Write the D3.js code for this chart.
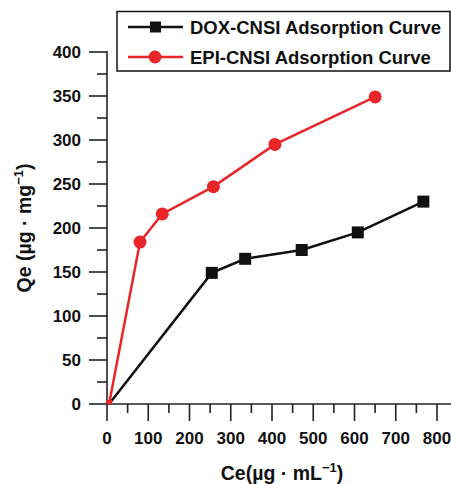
<!DOCTYPE html>
<html>
<head>
<meta charset="utf-8">
<script src="https://cdn.jsdelivr.net/npm/d3@7"></script>
<style>
  body { margin: 0; background: #fff; }
  text { font-family: "Liberation Sans", Arial, sans-serif; font-weight: bold; fill: #111; }
</style>
</head>
<body>
<svg id="chart" width="451" height="484"></svg>
<script>
// adsorption curves
var doxCe = [5, 254, 335, 472, 608, 767],
    doxQe = [0, 149, 165, 175, 195, 230];
var epiCe = [5, 80, 134, 258, 407, 650],
    epiQe = [0, 184, 216, 247, 295, 349];
var seriesNames = ["DOX-CNSI Adsorption Curve", "EPI-CNSI Adsorption Curve"];
var xTicks = [0, 100, 200, 300, 400, 500, 600, 700, 800],
    yTicks = [0, 50, 100, 150, 200, 250, 300, 350, 400];

var black = "#111", red = "#e8262a";

var svg = d3.select("#chart");

var x = d3.scaleLinear().domain([0, 800]).range([107, 437]),
    y = d3.scaleLinear().domain([0, 400]).range([404, 52]);

// minor ticks
var xMinor = d3.range(50, 850, 100),
    yMinor = d3.range(25, 400, 50);

var axisColor = "#222";

// x axis
var gx = svg.append("g").attr("transform", "translate(0," + y(0) + ")");
gx.append("line").attr("x1", x(0)).attr("x2", 451).attr("y1", 0).attr("y2", 0)
  .attr("stroke", axisColor).attr("stroke-width", 1.6);
gx.selectAll("line.major").data(xTicks).enter().append("line")
  .attr("x1", x).attr("x2", x).attr("y1", 0).attr("y2", 17)
  .attr("stroke", axisColor).attr("stroke-width", 1.6);
gx.selectAll("line.minor").data(xMinor).enter().append("line")
  .attr("x1", x).attr("x2", x).attr("y1", 0).attr("y2", 9)
  .attr("stroke", axisColor).attr("stroke-width", 1.6);
gx.selectAll("text").data(xTicks).enter().append("text")
  .attr("x", x).attr("y", 40).attr("text-anchor", "middle")
  .style("font-size", "17px").text(function(d) { return d; });

// y axis
var gy = svg.append("g").attr("transform", "translate(" + x(0) + ",0)");
gy.append("line").attr("x1", 0).attr("x2", 0).attr("y1", y(400) - 1).attr("y2", y(0))
  .attr("stroke", axisColor).attr("stroke-width", 1.6);
gy.selectAll("line.major").data(yTicks).enter().append("line")
  .attr("x1", -18).attr("x2", 0).attr("y1", y).attr("y2", y)
  .attr("stroke", axisColor).attr("stroke-width", 1.6);
gy.selectAll("line.minor").data(yMinor).enter().append("line")
  .attr("x1", -10).attr("x2", 0).attr("y1", y).attr("y2", y)
  .attr("stroke", axisColor).attr("stroke-width", 1.6);
gy.selectAll("text").data(yTicks).enter().append("text")
  .attr("x", -26).attr("y", function(d) { return y(d) + 6; })
  .attr("text-anchor", "end")
  .style("font-size", "17px").text(function(d) { return d; });

// axis titles
var xt = svg.append("text").attr("x", 282).attr("y", 480)
  .attr("text-anchor", "middle").style("font-size", "19.5px");
xt.append("tspan").text("Ce(\u00b5g \u00b7 mL");
xt.append("tspan").attr("dy", -8).style("font-size", "13px").text("\u22121");
xt.append("tspan").attr("dy", 8).text(")");

var yt = svg.append("text").attr("transform", "translate(31,228) rotate(-90)")
  .attr("text-anchor", "middle").style("font-size", "19.5px");
yt.append("tspan").text("Qe (\u00b5g \u00b7 mg");
yt.append("tspan").attr("dy", -8).style("font-size", "13px").text("\u22121");
yt.append("tspan").attr("dy", 8).text(")");

// lines
var line = d3.line().x(function(d) { return x(d[0]); }).y(function(d) { return y(d[1]); });
var dox = d3.zip(doxCe, doxQe),
    epi = d3.zip(epiCe, epiQe);

svg.append("path").datum(dox).attr("d", line)
  .attr("fill", "none").attr("stroke", black).attr("stroke-width", 2.5);
svg.append("path").datum(epi).attr("d", line)
  .attr("fill", "none").attr("stroke", red).attr("stroke-width", 2.5);

var sq = 12;
svg.selectAll("rect.dox").data(dox.slice(1)).enter().append("rect")
  .attr("x", function(d) { return x(d[0]) - sq / 2; })
  .attr("y", function(d) { return y(d[1]) - sq / 2; })
  .attr("width", sq).attr("height", sq).attr("fill", black);
svg.selectAll("circle.epi").data(epi.slice(1)).enter().append("circle")
  .attr("cx", function(d) { return x(d[0]); })
  .attr("cy", function(d) { return y(d[1]); })
  .attr("r", 6.5).attr("fill", red);
// small origin marker
svg.append("rect").attr("x", x(5) - 3).attr("y", y(0) - 4).attr("width", 6).attr("height", 4).attr("fill", red);

// legend
var lg = svg.append("g");
lg.append("rect").attr("x", 117).attr("y", 11.5).attr("width", 333).attr("height", 59.5)
  .attr("fill", "#fff").attr("stroke", "#111").attr("stroke-width", 1.5);
[0, 1].forEach(function(i) {
  var cy = i === 0 ? 27 : 57,
      col = i === 0 ? black : red;
  lg.append("line").attr("x1", 128).attr("x2", 183).attr("y1", cy).attr("y2", cy)
    .attr("stroke", col).attr("stroke-width", 2.5);
  if (i === 0) {
    lg.append("rect").attr("x", 150).attr("y", cy - 5.5).attr("width", 11).attr("height", 11).attr("fill", col);
  } else {
    lg.append("circle").attr("cx", 155).attr("cy", cy).attr("r", 6.5).attr("fill", col);
  }
  lg.append("text").attr("x", 190).attr("y", cy + 6.5).style("font-size", "18.5px").text(seriesNames[i]);
});
</script>
</body>
</html>
